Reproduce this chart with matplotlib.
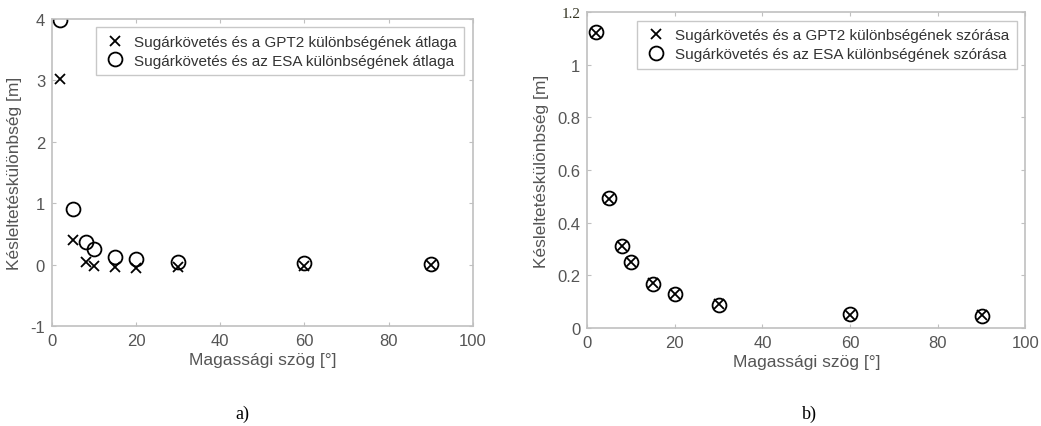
import matplotlib
matplotlib.use('Agg')
import matplotlib.pyplot as plt

# Elevation angles [deg]
angles = [2, 5, 8, 10, 15, 20, 30, 60, 90]

# a) mean of differences [m]
mean_gpt2 = [3.03, 0.40, 0.05, -0.02, -0.04, -0.05, -0.03, -0.02, -0.01]
mean_esa = [3.98, 0.90, 0.37, 0.25, 0.13, 0.09, 0.05, 0.02, 0.01]

# b) standard deviation of differences [m]
std_gpt2 = [1.12, 0.49, 0.31, 0.25, 0.17, 0.13, 0.09, 0.05, 0.048]
std_esa = [1.125, 0.492, 0.31, 0.25, 0.168, 0.127, 0.087, 0.051, 0.046]

plt.rcParams['font.family'] = ['Liberation Sans', 'DejaVu Sans']
plt.rcParams['axes.unicode_minus'] = False
gray = '#555555'
frame = '#c0c0c0'

fig = plt.figure(figsize=(10.41, 4.27), dpi=100)
ax1 = fig.add_axes([0.050, 0.234, 0.404, 0.719])
ax2 = fig.add_axes([0.564, 0.230, 0.421, 0.739])


def style(ax):
    for s in ax.spines.values():
        s.set_color(frame)
        s.set_linewidth(1.2)
    ax.tick_params(direction='in', top=True, right=True, colors=frame,
                   labelcolor=gray, labelsize=12, length=3, pad=5)
    ax.set_xlabel('Magassági szög [°]', color=gray, fontsize=12.5, labelpad=3)
    ax.set_ylabel('Késleltetéskülönbség [m]', color=gray, fontsize=12.5,
                  labelpad=6)


def legend(ax):
    leg = ax.legend(loc='upper right', fontsize=11, frameon=True,
                    fancybox=False, borderaxespad=0.55, handletextpad=0.5,
                    borderpad=0.5, labelspacing=0.3, handlelength=1.5)
    leg.get_frame().set_edgecolor('#bbbbbb')
    for t in leg.get_texts():
        t.set_color('#333333')


ax1.plot(angles, mean_gpt2, 'x', color='black', ms=7, mew=1.3,
         label='Sugárkövetés és a GPT2 különbségének átlaga')
ax1.plot(angles, mean_esa, 'o', mfc='none', mec='black', ms=10, mew=1.3,
         label='Sugárkövetés és az ESA különbségének átlaga')
ax1.set_xlim(0, 100)
ax1.set_ylim(-1, 4)
ax1.set_xticks(range(0, 101, 20))
ax1.set_yticks(range(-1, 5))
style(ax1)
legend(ax1)

ax2.plot(angles, std_gpt2, 'x', color='black', ms=7, mew=1.3,
         label='Sugárkövetés és a GPT2 különbségének szórása')
ax2.plot(angles, std_esa, 'o', mfc='none', mec='black', ms=10, mew=1.3,
         label='Sugárkövetés és az ESA különbségének szórása')
ax2.set_xlim(0, 100)
ax2.set_ylim(0, 1.2)
ax2.set_xticks(range(0, 101, 20))
ax2.set_yticks([0, 0.2, 0.4, 0.6, 0.8, 1, 1.2])
ax2.set_yticklabels(['0', '0.2', '0.4', '0.6', '0.8', '1', '1.2'])
style(ax2)
top = ax2.get_yticklabels()[-1]
top.set_family('Liberation Serif')
top.set_color('#333322')
top.set_fontsize(11)
legend(ax2)

fig.text(0.233, 0.02, 'a)', family='Liberation Serif', fontsize=13, ha='center')
fig.text(0.778, 0.02, 'b)', family='Liberation Serif', fontsize=13, ha='center')

fig.savefig('out.png', dpi=100)
